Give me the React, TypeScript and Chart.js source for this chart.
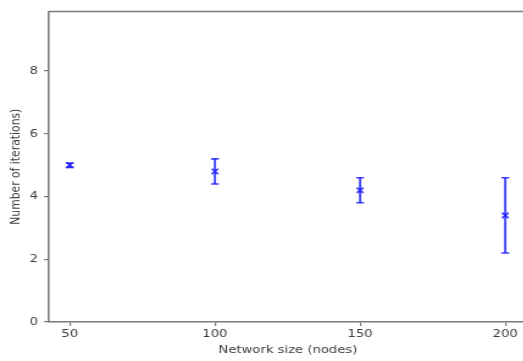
import React, { useEffect, useRef } from "react";
import { Chart, registerables } from "chart.js";

Chart.register(...registerables);

// ---- data ----
const networkSizes = [50, 100, 150, 200];
const meanIterations = [5.0, 4.8, 4.2, 3.4];
const errIterations = [0.07, 0.4, 0.4, 1.2];
const xTickValues = [50, 100, 150, 200];
const yTickValues = [0, 2, 4, 6, 8];
const xTitle = "Network size (nodes)";
const yTitle = "Number of iterations)";

const STRETCH = 1.22;
const CANVAS_W = 440;
const CANVAS_H = 361;
const BLUE = "rgba(25,25,255,0.82)";
const TEXT = "#3c3c3c";
const SPINE = "#7a7a7a";
const FONT = { family: "'DejaVu Sans'", size: 10.8 };

const errorBarPlugin = {
  id: "errorBars",
  beforeDatasetsDraw(chart: any) {
    const { ctx, scales } = chart;
    const xs = scales.x;
    const ys = scales.y;
    ctx.save();
    ctx.strokeStyle = BLUE;
    ctx.lineWidth = 1.9;
    const cap = 3.2;
    networkSizes.forEach((xv, i) => {
      const px = xs.getPixelForValue(xv);
      const top = ys.getPixelForValue(meanIterations[i] + errIterations[i]);
      const bot = ys.getPixelForValue(meanIterations[i] - errIterations[i]);
      ctx.beginPath();
      ctx.moveTo(px, top);
      ctx.lineTo(px, bot);
      ctx.stroke();
      ctx.lineWidth = 1.6;
      ctx.beginPath();
      ctx.moveTo(px - cap, top);
      ctx.lineTo(px + cap, top);
      ctx.moveTo(px - cap, bot);
      ctx.lineTo(px + cap, bot);
      ctx.stroke();
      ctx.lineWidth = 1.9;
    });
    ctx.restore();
  },
};

const framePlugin = {
  id: "frame",
  afterDraw(chart: any) {
    const { ctx, chartArea } = chart;
    ctx.save();
    ctx.strokeStyle = SPINE;
    ctx.lineWidth = 1.6;
    ctx.beginPath();
    ctx.moveTo(chartArea.left, chartArea.top);
    ctx.lineTo(chartArea.right + 20, chartArea.top);
    ctx.stroke();
    ctx.restore();
  },
};

export default function App() {
  const ref = useRef<HTMLCanvasElement | null>(null);

  useEffect(() => {
    if (!ref.current) return;
    const chart = new Chart(ref.current, {
      type: "scatter",
      data: {
        datasets: [
          {
            data: networkSizes.map((x, i) => ({ x, y: meanIterations[i] })),
            pointStyle: "crossRot",
            pointRadius: 3.8,
            pointBorderWidth: 1.7,
            borderColor: BLUE,
            backgroundColor: BLUE,
            showLine: false,
          },
        ],
      },
      options: {
        animation: false,
        responsive: false,
        devicePixelRatio: 1,
        layout: { padding: { left: 0, right: 8, top: 9.3, bottom: 0 } },
        plugins: {
          legend: { display: false },
          tooltip: { enabled: false },
        },
        scales: {
          x: {
            type: "linear",
            min: 42.8,
            max: 207.5,
            afterBuildTicks: (axis: any) => {
              axis.ticks = xTickValues.map((v) => ({ value: v }));
            },
            afterFit: (axis: any) => {
              axis.height = 39;
            },
            grid: {
              drawOnChartArea: false,
              drawTicks: true,
              tickLength: 4,
              color: SPINE,
              lineWidth: 1.2,
            },
            border: { display: true, color: SPINE, width: 1.6 },
            ticks: {
              color: TEXT,
              font: FONT,
              padding: 2,
              maxRotation: 0,
              autoSkip: false,
            },
            title: {
              display: true,
              text: xTitle,
              color: TEXT,
              font: FONT,
              padding: { top: 0, bottom: 4 },
            },
          },
          y: {
            type: "linear",
            min: 0,
            max: 9.9,
            afterBuildTicks: (axis: any) => {
              axis.ticks = yTickValues.map((v) => ({ value: v }));
            },
            afterFit: (axis: any) => {
              axis.width = 40;
            },
            grid: {
              drawOnChartArea: false,
              drawTicks: true,
              tickLength: 4,
              color: SPINE,
              lineWidth: 1.2,
            },
            border: { display: true, color: SPINE, width: 1.6 },
            ticks: {
              color: TEXT,
              font: FONT,
              padding: 5,
              autoSkip: false,
            },
            title: {
              display: true,
              text: yTitle,
              color: TEXT,
              font: FONT,
              padding: { top: 7, bottom: 0 },
            },
          },
        },
      },
      plugins: [errorBarPlugin, framePlugin],
    });
    return () => chart.destroy();
  }, []);

  return (
    <div
      style={{
        position: "absolute",
        left: 0,
        top: 0,
        width: 523,
        height: 361,
        overflow: "hidden",
        background: "#fff",
      }}
    >
      <div
        style={{
          width: CANVAS_W,
          height: CANVAS_H,
          transform: `scaleX(${STRETCH})`,
          transformOrigin: "0 0",
        }}
      >
        <canvas
          ref={ref}
          width={CANVAS_W}
          height={CANVAS_H}
          style={{ width: CANVAS_W, height: CANVAS_H, display: "block" }}
        />
      </div>
    </div>
  );
}
